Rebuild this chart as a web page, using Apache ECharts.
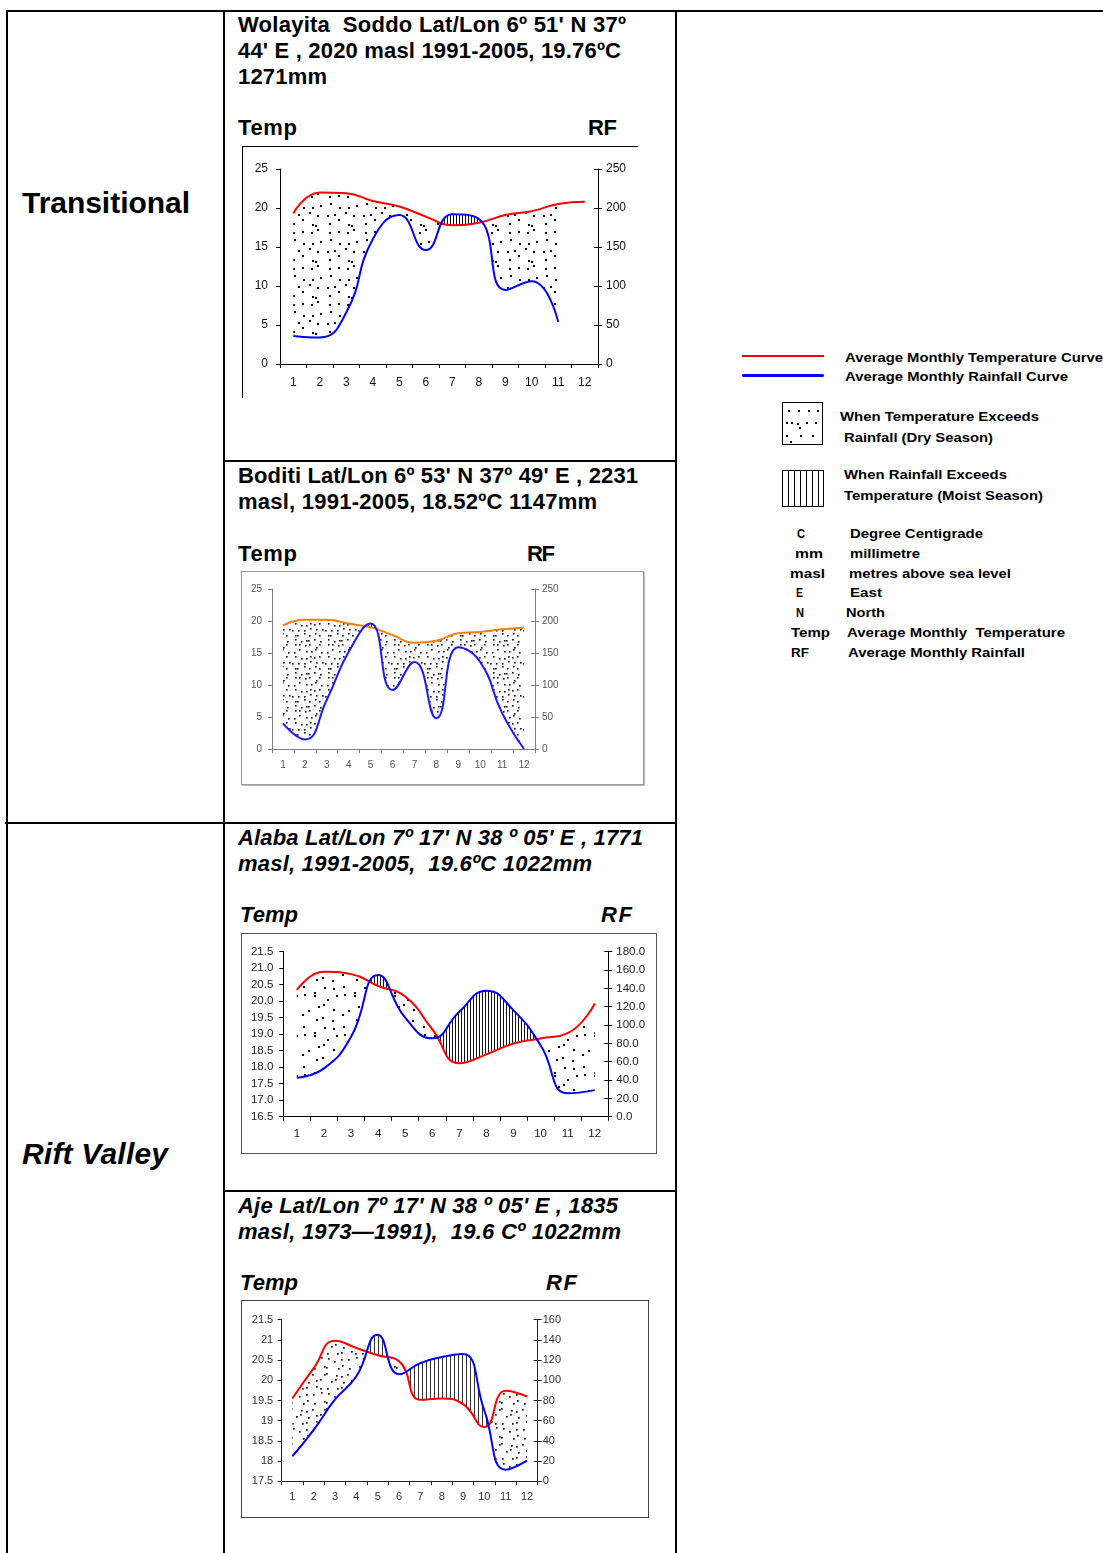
<!DOCTYPE html>
<html><head><meta charset="utf-8">
<script src="https://cdn.jsdelivr.net/npm/echarts@6/dist/echarts.min.js"></script>
<style>
html,body{margin:0;padding:0;background:#fff;}
body{width:1103px;height:1553px;position:relative;overflow:hidden;font-family:"Liberation Sans",Arial,sans-serif;}
.ln{position:absolute;background:#000;}
.t{position:absolute;white-space:pre;line-height:1;font-weight:bold;color:#000;transform-origin:0 50%;}
.ch{position:absolute;box-sizing:border-box;}
.dot{position:absolute;width:2px;height:2px;background:#000;}
</style></head><body>
<div id="c1" class="ch" style="left:243px;top:147px;width:395px;height:251px;"></div>
<div id="c2" class="ch" style="left:241px;top:571px;width:403px;height:214px;border:1px solid #9a9a9a;box-shadow:1px 1px 0 #bbb;"></div>
<div id="c3" class="ch" style="left:241px;top:933px;width:416px;height:221px;border:1px solid #555;"></div>
<div id="c4" class="ch" style="left:241px;top:1300px;width:408px;height:218px;border:1px solid #444;"></div>
<script>
// ---------------- DATA ----------------
const months = ['1','2','3','4','5','6','7','8','9','10','11','12'];
// Wolayita Soddo
const soddoTemp = [19.3, 22.0, 21.9, 20.9, 20.2, 18.9, 17.8, 18.1, 19.1, 19.6, 20.5, 20.8];
const soddoRain = [36, 34, 66, 160, 191, 146, 192, 186, 95, 106, 54, null];
// Boditi
const boditiTemp = [19.3, 20.2, 20.2, 19.6, 19.0, 17.8, 16.6, 16.9, 18.1, 18.3, 18.7, 19.0];
const boditiRain = [40, 15, 77, 152, 196, 92, 136, 48, 159, 136, 56, 0];
// Alaba
const alabaTemp = [20.34, 20.89, 20.82, 20.46, 20.14, 19.15, 18.12, 18.39, 18.72, 18.87, 19.03, 19.93];
const alabaRain = [42.5, 52.7, 87, 154.5, 108, 85.5, 114.5, 137.5, 116, 78, 25.5, 29];
// Aje
const ajeTemp = [19.55, 20.3, 20.98, 20.8, 20.62, 20.47, 19.52, 19.55, 19.41, 18.84, 19.74, 19.6];
const ajeRain = [24.8, 51, 81, 104, 145, 106, 117, 123, 126, 70, 11.5, 20.5];
// axis ranges
const soddoAxes = {tMin:0, tMax:25, tInt:5, rMin:0, rMax:250, rInt:50};
const boditiAxes = {tMin:0, tMax:25, tInt:5, rMin:0, rMax:250, rInt:50};
const alabaAxes = {tMin:16.5, tMax:21.5, tInt:0.5, rMin:0, rMax:180, rInt:20};
const ajeAxes = {tMin:17.5, tMax:21.5, tInt:0.5, rMin:0, rMax:160, rInt:20};

// ---------------- TEXT / LAYOUT ----------------
function addText(x, baseline, text, size, opts){
  opts = opts || {};
  const d = document.createElement('div');
  d.className = 't';
  d.textContent = text;
  d.style.left = x + 'px';
  d.style.top = (baseline - 0.8465*size) + 'px';
  d.style.fontSize = size + 'px';
  if (opts.italic) d.style.fontStyle = 'italic';
  if (opts.w) { d.dataset.w = opts.w; d.dataset.mode = opts.mode || 'ls'; }
  document.body.appendChild(d);
  return d;
}
function addLine(l,t,w,h,color){
  const d=document.createElement('div'); d.className='ln';
  d.style.cssText='left:'+l+'px;top:'+t+'px;width:'+w+'px;height:'+h+'px;'+(color?'background:'+color+';':'');
  document.body.appendChild(d); return d;
}
// table
addLine(6,10,1097,2);
addLine(6,10,2,1543);
addLine(223,10,2,1543);
addLine(675,10,2,1543);
addLine(5,822,672,2);
addLine(223,460,454,2);
addLine(223,1190,454,2);
// chart1 partial frame
addLine(242,146,396,1);
addLine(242,146,1,252);

const TS = 22;
addText(22, 213.5, 'Transitional', 30, {w:168});
addText(22, 1164.5, 'Rift Valley', 30, {italic:true, w:146});

addText(238, 32.5, "Wolayita  Soddo Lat/Lon 6º 51' N 37º", TS, {w:388});
addText(238, 58.5, "44' E , 2020 masl 1991-2005, 19.76ºC", TS, {w:383});
addText(238, 84.5, "1271mm", TS, {w:89});
addText(238, 135.5, "Temp", TS, {w:59});
addText(588, 135.5, "RF", TS, {w:29});

addText(238, 483.5, "Boditi Lat/Lon 6º 53' N 37º 49' E , 2231", TS, {w:400});
addText(238, 509.5, "masl, 1991-2005, 18.52ºC 1147mm", TS, {w:359});
addText(238, 561.5, "Temp", TS, {w:59});
addText(527, 561.5, "RF", TS, {w:28});

addText(238, 845.5, "Alaba Lat/Lon 7º 17' N 38 º 05' E , 1771", TS, {italic:true, w:405});
addText(238, 871.5, "masl, 1991-2005,  19.6ºC 1022mm", TS, {italic:true, w:354});
addText(240, 922.5, "Temp", TS, {italic:true, w:58});
addText(601, 922.5, "RF", TS, {italic:true, w:31});

addText(238, 1213.5, "Aje Lat/Lon 7º 17' N 38 º 05' E , 1835", TS, {italic:true, w:380});
addText(238, 1239.5, "masl, 1973—1991),  19.6 Cº 1022mm", TS, {italic:true, w:383});
addText(240, 1290.5, "Temp", TS, {italic:true, w:58});
addText(546, 1290.5, "RF", TS, {italic:true, w:31});

// legend
addLine(742,355,82,2,'#ff0000');
const bl = addLine(742,374,82,3,'#0000ff'); bl.style.borderRadius='2px';
const LS = 13, cap = 4.65;
addText(845, 357.3+cap, 'Average Monthly Temperature Curve', LS, {w:258, mode:'sx'});
addText(845, 376.7+cap, 'Average Monthly Rainfall Curve', LS, {w:223, mode:'sx'});
addText(840, 416.5+cap, 'When Temperature Exceeds', LS, {w:199, mode:'sx'});
addText(844, 437+cap, 'Rainfall (Dry Season)', LS, {w:149, mode:'sx'});
addText(844, 474.3+cap, 'When Rainfall Exceeds', LS, {w:163, mode:'sx'});
addText(844, 495+cap, 'Temperature (Moist Season)', LS, {w:199, mode:'sx'});
const ab = [
  [797,'C',850,'Degree Centigrade',133,533.3],
  [795,'mm',850,'millimetre',70,553.3],
  [790,'masl',849,'metres above sea level',162,573.3],
  [796,'E',850,'East',32,592.7],
  [796,'N',846,'North',39,612.7],
  [791,'Temp',847,'Average Monthly  Temperature',218,632.7],
  [791,'RF',848,'Average Monthly Rainfall',177,652.7]
];
const abW = {'C':8,'mm':28,'masl':35,'E':7,'N':8,'Temp':39,'RF':18};
ab.forEach(r=>{ addText(r[0], r[5]+cap, r[1], LS, {w:abW[r[1]], mode:'sx'}); addText(r[2], r[5]+cap, r[3], LS, {w:r[4], mode:'sx'}); });
// legend boxes
(function(){
  const b1=document.createElement('div');
  b1.style.cssText='position:absolute;left:782px;top:402px;width:41px;height:43px;border:1px solid #000;box-sizing:border-box;';
  document.body.appendChild(b1);
  [[788,410],[798,410],[808,410],[817,410],[786,422],[791,422],[797,423],[806,422],[815,422],[799,427],[786,435],[800,435],[812,435],[790,441]].forEach(p=>{
    const d=document.createElement('div'); d.className='dot'; d.style.left=p[0]+'px'; d.style.top=p[1]+'px'; document.body.appendChild(d);
  });
  const b2=document.createElement('div');
  b2.style.cssText='position:absolute;left:782px;top:470px;width:42px;height:37px;border:1px solid #000;box-sizing:border-box;';
  document.body.appendChild(b2);
  [788,794,800,806,812,818].forEach(x=>addLine(x,470,1,37,'#000'));
})();
document.querySelectorAll('[data-w]').forEach(el=>{
  const target=+el.dataset.w; const w=el.getBoundingClientRect().width; const n=el.textContent.length;
  if(el.dataset.mode==='sx'){
    el.style.transform='scaleX('+(target/w)+')';
  } else if(n>1) el.style.letterSpacing=((target-w)/(n-1))+'px';
});

// ---------------- PATTERNS ----------------
function dotPattern(cells, step, r, color, seed){
  const size = cells*step;
  const c=document.createElement('canvas'); c.width=size; c.height=size;
  const g=c.getContext('2d'); g.fillStyle=color;
  let s=seed; const rnd=()=>{s=(s*16807)%2147483647; return s/2147483647;};
  for(let i=0;i<cells;i++) for(let j=0;j<cells;j++){
    const x=i*step+rnd()*(step-r), y=j*step+rnd()*(step-r);
    g.fillRect(Math.round(x),Math.round(y),r,r);
  }
  return {image:c, repeat:'repeat'};
}
function hatchPattern(step, color){
  const c=document.createElement('canvas'); c.width=step; c.height=4;
  const g=c.getContext('2d'); g.fillStyle=color; g.fillRect(0,0,1,4);
  return {image:c, repeat:'repeat'};
}

// ---------------- SMOOTH CURVE (mirrors ECharts line smoothing) ----------------
function smoothSegs(pts, smooth){
  const segs=[]; let prevX, prevY, cpx0, cpy0; const n=pts.length;
  for(let k=0;k<n;k++){
    const x=pts[k][0], y=pts[k][1];
    if(k===0){cpx0=x;cpy0=y;}
    else{
      let cpx1,cpy1,nextCpx0,nextCpy0;
      if(k+1>=n){cpx1=x;cpy1=y;nextCpx0=x;nextCpy0=y;}
      else{
        const nextX=pts[k+1][0], nextY=pts[k+1][1];
        let vx=nextX-prevX, vy=nextY-prevY;
        const lenPrev=Math.hypot(x-prevX,y-prevY), lenNext=Math.hypot(nextX-x,nextY-y);
        const ratio=lenNext/(lenNext+lenPrev);
        nextCpx0=x+vx*smooth*ratio; nextCpy0=y+vy*smooth*ratio;
        nextCpx0=Math.min(nextCpx0,Math.max(nextX,x)); nextCpy0=Math.min(nextCpy0,Math.max(nextY,y));
        nextCpx0=Math.max(nextCpx0,Math.min(nextX,x)); nextCpy0=Math.max(nextCpy0,Math.min(nextY,y));
        vx=nextCpx0-x; vy=nextCpy0-y;
        cpx1=x-vx*lenPrev/lenNext; cpy1=y-vy*lenPrev/lenNext;
        cpx1=Math.min(cpx1,Math.max(prevX,x)); cpy1=Math.min(cpy1,Math.max(prevY,y));
        cpx1=Math.max(cpx1,Math.min(prevX,x)); cpy1=Math.max(cpy1,Math.min(prevY,y));
        vx=x-cpx1; vy=y-cpy1;
        nextCpx0=x+vx*lenNext/lenPrev; nextCpy0=y+vy*lenNext/lenPrev;
      }
      segs.push([prevX,prevY,cpx0,cpy0,cpx1,cpy1,x,y]);
      cpx0=nextCpx0; cpy0=nextCpy0;
    }
    prevX=x; prevY=y;
  }
  return segs;
}
function samplePath(segs){
  const out=[]; if(!segs.length) return out;
  out.push([segs[0][0],segs[0][1]]);
  segs.forEach(s=>{
    for(let i=1;i<=30;i++){
      const t=i/30, u=1-t;
      const a=u*u*u, b=3*u*u*t, c=3*u*t*t, d=t*t*t;
      out.push([a*s[0]+b*s[2]+c*s[4]+d*s[6], a*s[1]+b*s[3]+c*s[5]+d*s[7]]);
    }
  });
  return out;
}
function yAt(poly,x){
  for(let i=1;i<poly.length;i++){
    if(poly[i][0]>=x){
      const p=poly[i-1], q=poly[i];
      if(q[0]===p[0]) return q[1];
      return p[1]+(x-p[0])/(q[0]-p[0])*(q[1]-p[1]);
    }
  }
  return poly[poly.length-1][1];
}

function fillSeries(tempArr, rainArr, ax, dotPat, hatchPat){
  const toT = r => ax.tMin + (r-ax.rMin)*(ax.tMax-ax.tMin)/(ax.rMax-ax.rMin);
  return {
    type:'custom', xAxisIndex:0, yAxisIndex:0, z:1, silent:true, clip:false,
    data:[[0, tempArr[0]]],
    renderItem:function(params, api){
      const tp=[], rp=[];
      tempArr.forEach((v,i)=>{ if(v!=null) tp.push(api.coord([i,v])); });
      rainArr.forEach((v,i)=>{ if(v!=null) rp.push(api.coord([i,toT(v)])); });
      const pT=samplePath(smoothSegs(tp,0.5)), pR=samplePath(smoothSegs(rp,0.5));
      const x0=Math.max(pT[0][0],pR[0][0]), x1=Math.min(pT[pT.length-1][0],pR[pR.length-1][0]);
      const S=[];
      for(let x=x0;x<x1;x+=0.5) S.push([x,yAt(pT,x),yAt(pR,x)]);
      S.push([x1,yAt(pT,x1),yAt(pR,x1)]);
      const children=[];
      function flush(run,sg){
        if(run.length<2||sg===0) return;
        const pts=run.map(q=>[q[0],q[1]]).concat(run.slice().reverse().map(q=>[q[0],q[2]]));
        children.push({type:'polygon', shape:{points:pts}, style:{fill: sg>0?dotPat:hatchPat, stroke:null}});
      }
      let run=[S[0]], sgn=Math.sign(S[0][2]-S[0][1]);
      for(let i=1;i<S.length;i++){
        const s=S[i], d=s[2]-s[1], sg=Math.sign(d);
        if(sg!==0 && sgn!==0 && sg!==sgn){
          const p=S[i-1], dp=p[2]-p[1], f=dp/(dp-d);
          const cx=p[0]+f*(s[0]-p[0]), cy=p[1]+f*(s[1]-p[1]);
          const c=[cx,cy,cy];
          run.push(c); flush(run,sgn); run=[c]; sgn=sg;
        } else if(sgn===0) sgn=sg;
        run.push(s);
      }
      flush(run,sgn);
      return {type:'group', children:children};
    }
  };
}

function buildOption(cfg){
  const ax=cfg.axes;
  const lblT = cfg.fmtT || (v=>String(v));
  const lblR = cfg.fmtR || (v=>String(v));
  const axisCol = cfg.axisColor;
  return {
    animation:false,
    textStyle:{fontFamily:'"Liberation Sans", Arial, sans-serif'},
    grid:{left:cfg.grid[0], top:cfg.grid[1], width:cfg.grid[2], height:cfg.grid[3], containLabel:false, outerBoundsMode:'none'},
    xAxis:{type:'category', data:months, boundaryGap:true,
      axisLine:{show:true, lineStyle:{color:axisCol, width:1}},
      axisTick:{show:true, length:4, lineStyle:{color:axisCol}},
      axisLabel:{color:cfg.labelColor, fontSize:cfg.fontSize, margin:cfg.xMargin, interval:0},
      splitLine:{show:false}},
    yAxis:[
      {type:'value', position:'left', min:ax.tMin, max:ax.tMax, interval:ax.tInt,
        axisLine:{show:true, lineStyle:{color:axisCol}},
        axisTick:{show:true, length:4, lineStyle:{color:axisCol}},
        axisLabel:{color:cfg.labelColor, fontSize:cfg.fontSize, margin:cfg.lMargin, formatter:lblT},
        splitLine:{show:false}},
      {type:'value', position:'right', min:ax.rMin, max:ax.rMax, interval:ax.rInt,
        axisLine:{show:true, lineStyle:{color:axisCol}},
        axisTick:{show:true, length:4, lineStyle:{color:axisCol}},
        axisLabel:{color:cfg.labelColor, fontSize:cfg.fontSize, margin:cfg.rMargin, formatter:lblR},
        splitLine:{show:false}},
      {type:'value', position:'right', min:ax.rMin, max:ax.rMax, interval:ax.rInt,
        axisLine:{show:false}, axisLabel:{show:false},
        axisTick:{show:true, inside:true, length:4, lineStyle:{color:axisCol}},
        splitLine:{show:false}}
    ],
    series:[
      fillSeries(cfg.temp, cfg.rain, ax, cfg.dotPat, cfg.hatchPat),
      {type:'line', name:'Temperature', data:cfg.temp, yAxisIndex:0, smooth:true, symbol:'none', z:3,
        lineStyle:{color:cfg.tColor, width:2}},
      {type:'line', name:'Rainfall', data:cfg.rain, yAxisIndex:1, smooth:true, symbol:'none', z:3,
        lineStyle:{color:cfg.rColor, width:2}}
    ]
  };
}

const charts=[
  {id:'c1', temp:soddoTemp, rain:soddoRain, axes:soddoAxes, grid:[37,22,318,195],
   axisColor:'#000', labelColor:'#111', fontSize:12, xMargin:13, lMargin:12, rMargin:8,
   tColor:'#ff0000', rColor:'#0000ff', dotPat:dotPattern(4,9,2,'#000',7), hatchPat:hatchPattern(3,'#000')},
  {id:'c2', temp:boditiTemp, rain:boditiRain, axes:boditiAxes, grid:[30,17,263,160],
   axisColor:'#808080', labelColor:'#555', fontSize:10, xMargin:11, lMargin:10, rMargin:7,
   tColor:'#ff7f00', rColor:'#1a1aff', dotPat:dotPattern(6,5.5,1.6,'#111',11), hatchPat:hatchPattern(3,'#000')},
  {id:'c3', temp:alabaTemp, rain:alabaRain, axes:alabaAxes, grid:[41.3,17.7,325,165],
   axisColor:'#000', labelColor:'#222', fontSize:11.5, xMargin:11, lMargin:10, rMargin:8,
   fmtT:v=>v.toFixed(1), fmtR:v=>v.toFixed(1),
   tColor:'#ff0000', rColor:'#0000ff', dotPat:dotPattern(4,10,2,'#000',3), hatchPat:hatchPattern(3,'#111')},
  {id:'c4', temp:ajeTemp, rain:ajeRain, axes:ajeAxes, grid:[39.7,18.7,256,161.6],
   axisColor:'#222', labelColor:'#333', fontSize:11, xMargin:10, lMargin:8.5, rMargin:5,
   tColor:'#ff0000', rColor:'#0000ff', dotPat:dotPattern(5,7,1.7,'#111',5), hatchPat:hatchPattern(4,'#333')}
];
charts.forEach(cfg=>{
  const ch=echarts.init(document.getElementById(cfg.id), null, {renderer:'canvas'});
  ch.setOption(buildOption(cfg));
});
</script>
</body></html>
